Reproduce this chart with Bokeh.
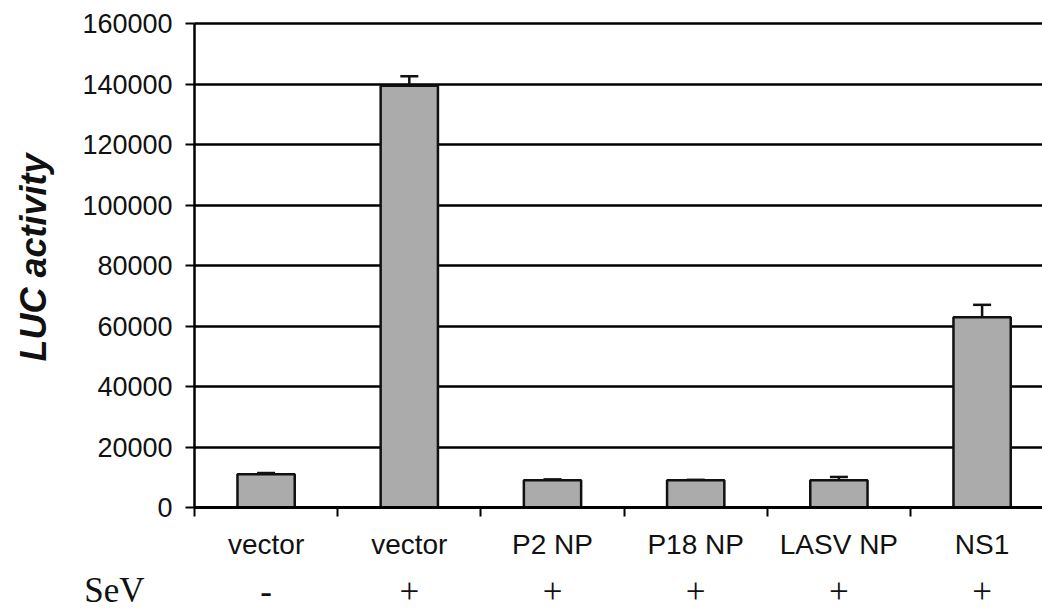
import math
from bokeh.plotting import figure
from bokeh.models import Range1d, FixedTicker, Whisker, TeeHead, ColumnDataSource
from bokeh.core.properties import value
from bokeh.embed import file_html
from bokeh.resources import INLINE

categories = ["vector", "vector", "P2 NP", "P18 NP", "LASV NP", "NS1"]
sev = ["-", "+", "+", "+", "+", "+"]
row_label = "SeV"
y_title = "LUC activity"
values = [11000, 139400, 9000, 9000, 9000, 62900]
errors = [400, 3200, 300, 150, 1100, 4100]
y_ticks = [0, 20000, 40000, 60000, 80000, 100000, 120000, 140000, 160000]

centers = [i + 0.5 for i in range(len(categories))]
bounds = list(range(len(categories)))
upper = [v + e for v, e in zip(values, errors)]

# layout constants (pixels)
W, H = 1042, 609
LEFT, TOP = 194, 23       # position of the axes corner / top tick
PLOT_H = 484              # height of the 0..160000 span
CAT_PX = 143.2            # width of one category
ROW_PX = 83               # SeV row centre below the zero line
SEV_X_PX = 114            # centre of "SeV" from the left edge
TITLE_X_PX = 33           # centre of the y title from the left edge
TITLE_Y_PX = 250          # centre of the y title above the zero line
Y_MAX = y_ticks[-1]
px_to_y = Y_MAX / PLOT_H
x_end = (W - LEFT) / CAT_PX
row_y = -ROW_PX * px_to_y

src = ColumnDataSource(dict(x=centers, top=values, upper=upper, cat=categories,
                            sev=sev, row=[row_y] * len(sev)))

p = figure(width=W, height=H, output_backend="svg", toolbar_location=None,
           x_range=Range1d(-LEFT / CAT_PX, x_end),
           y_range=Range1d(-(H - TOP - PLOT_H) * px_to_y, Y_MAX + TOP * px_to_y),
           min_border_left=0, min_border_right=0, min_border_top=0, min_border_bottom=0)
p.outline_line_color = None
p.background_fill_color = "white"

# grid
p.xgrid.grid_line_color = None
p.ygrid.grid_line_color = "black"
p.ygrid.grid_line_width = 2.5
p.ygrid.ticker = FixedTicker(ticks=y_ticks)
p.ygrid.cross_bounds = (0, x_end)

# bars
p.vbar(x="x", top="top", bottom=0, width=0.40, source=src,
       fill_color="#ABABAB", line_color="#111111", line_width=2.5)

# error bars (upper only)
w = Whisker(base="x", lower="top", upper="upper", source=src,
            upper_head=TeeHead(size=18, line_width=2.5, line_color="#111111"),
            lower_head=None, line_color="#111111", line_width=2.5)
p.add_layout(w)

# y axis at x = 0
ya = p.yaxis[0]
ya.fixed_location = 0
ya.bounds = (0, Y_MAX)
ya.ticker = FixedTicker(ticks=y_ticks)
ya.formatter.use_scientific = False
ya.axis_line_width = 2.5
ya.axis_line_color = "black"
ya.major_tick_line_color = "black"
ya.major_tick_line_width = 2
ya.major_tick_out = 9
ya.major_tick_in = 0
ya.minor_tick_line_color = None
ya.major_label_text_font = "Liberation Sans"
ya.major_label_text_font_size = "27px"
ya.major_label_text_color = "#111111"
ya.major_label_standoff = 13

# x axis on the zero line
xa = p.xaxis[0]
xa.fixed_location = 0
xa.bounds = (0, x_end)
xa.ticker = FixedTicker(ticks=centers, minor_ticks=bounds)
xa.major_label_overrides = {c: n for c, n in zip(centers, categories)}
xa.axis_line_width = 3
xa.axis_line_color = "black"
xa.major_tick_line_color = None
xa.minor_tick_line_color = "black"
xa.minor_tick_line_width = 2
xa.minor_tick_out = 9
xa.minor_tick_in = 0
xa.major_label_text_font = "Liberation Sans"
xa.major_label_text_font_size = "28px"
xa.major_label_text_color = "#111111"
xa.major_label_standoff = 12

# y title
p.text(x=[(TITLE_X_PX - LEFT) / CAT_PX], y=[TITLE_Y_PX * px_to_y], text=[y_title],
       angle=math.pi / 2,
       text_font=value("Liberation Sans"), text_font_style="bold italic",
       text_font_size="36px", text_align="center", text_baseline="middle",
       text_color="#111111")

# SeV row
p.text(x="x", y="row", text="sev", source=src, text_font=value("Liberation Serif"),
       text_font_size="35px", text_align="center", text_baseline="middle",
       text_color="#111111")
p.text(x=[(SEV_X_PX - LEFT) / CAT_PX], y=[row_y], text=[row_label],
       text_font=value("Liberation Serif"), text_font_size="35px",
       text_align="center", text_baseline="middle", text_color="#111111")

open("out.html", "w").write(file_html(p, INLINE))
